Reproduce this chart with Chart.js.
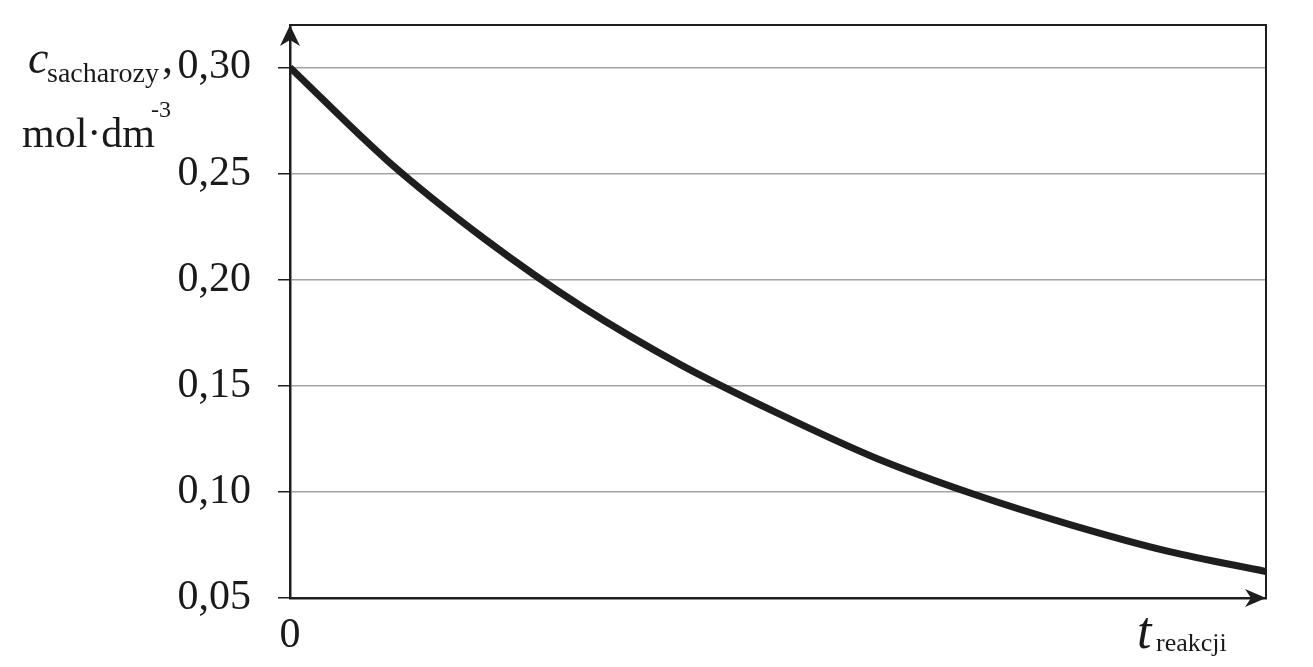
<!DOCTYPE html>
<html>
<head>
<meta charset="utf-8">
<script src="https://cdn.jsdelivr.net/npm/chart.js@4/dist/chart.umd.min.js"></script>
<style>
  body { margin: 0; background: #fff; }
  #wrap { position: relative; width: 1313px; height: 667px; }
  .lbl { position: absolute; font-family: "Liberation Serif", "Times New Roman", serif; color: #1a1a1a; line-height: 1; white-space: nowrap; }
</style>
</head>
<body>
<div id="wrap">
  <canvas id="chart"></canvas>
  <!-- axis titles, placed by hand -->
  <div class="lbl" style="left:28px; top:35px; font-size:46px; font-style:italic;">c</div>
  <div class="lbl" style="left:47px; top:59px; font-size:28px;">sacharozy</div>
  <div class="lbl" style="left:162px; top:37px; font-size:44px;">,</div>
  <div class="lbl" style="left:22px; top:112px; font-size:42px;">mol·dm</div>
  <div class="lbl" style="left:151px; top:97px; font-size:24px;">-3</div>
  <div class="lbl" style="left:1137px; top:605px; font-size:52px; font-style:italic;">t</div>
  <div class="lbl" style="left:1156px; top:630px; font-size:26px;">reakcji</div>
</div>
<script>
// reaction time (arbitrary units) and sucrose concentration
const times = [0, 1, 2, 3, 4, 5, 6, 7, 8, 9, 10];
const concentration = [0.300, 0.256, 0.219, 0.187, 0.160, 0.137, 0.116, 0.099, 0.0845, 0.072, 0.0625];
const yTicks = [0.05, 0.10, 0.15, 0.20, 0.25, 0.30];
const xTicks = [0];

const dark = '#1e1e1e';

// frame on top/right plus the two arrow heads
const framePlugin = {
  id: 'frame',
  afterDraw(chart) {
    const { ctx, chartArea: a } = chart;
    ctx.save();
    ctx.strokeStyle = dark;
    ctx.lineWidth = 2;
    ctx.beginPath();
    ctx.moveTo(a.left, a.top);
    ctx.lineTo(a.right, a.top);
    ctx.lineTo(a.right, a.bottom);
    ctx.stroke();

    ctx.fillStyle = dark;
    // up arrow on y axis
    ctx.beginPath();
    ctx.moveTo(a.left, a.top);
    ctx.lineTo(a.left - 10, a.top + 21);
    ctx.lineTo(a.left, a.top + 15);
    ctx.lineTo(a.left + 10, a.top + 21);
    ctx.closePath();
    ctx.fill();
    // right arrow on x axis
    ctx.beginPath();
    ctx.moveTo(a.right, a.bottom);
    ctx.lineTo(a.right - 21, a.bottom - 9);
    ctx.lineTo(a.right - 15, a.bottom);
    ctx.lineTo(a.right - 21, a.bottom + 9);
    ctx.closePath();
    ctx.fill();
    ctx.restore();
  }
};

new Chart(document.getElementById('chart'), {
  type: 'line',
  data: {
    datasets: [{
      data: times.map((t, i) => ({ x: t, y: concentration[i] })),
      borderColor: dark,
      borderWidth: 7,
      pointRadius: 0,
      cubicInterpolationMode: 'monotone',
      fill: false
    }]
  },
  options: {
    responsive: true,
    maintainAspectRatio: false,
    animation: false,
    events: [],
    // y labels add half a line height on top by themselves
    layout: { padding: { left: 0, top: 0, right: 47, bottom: 0 } },
    plugins: { legend: { display: false }, tooltip: { enabled: false } },
    scales: {
      x: {
        type: 'linear',
        min: 0,
        max: 10,
        afterBuildTicks: (s) => { s.ticks = xTicks.map(v => ({ value: v })); },
        afterFit: (s) => { s.height = 69; },
        grid: { drawOnChartArea: false, drawTicks: false },
        border: { color: dark, width: 2.5 },
        ticks: {
          padding: 13,
          color: '#1a1a1a',
          font: { family: 'Liberation Serif', size: 42 },
          callback: (v) => String(v)
        }
      },
      y: {
        min: 0.05,
        max: 0.32,
        afterBuildTicks: (s) => { s.ticks = yTicks.map(v => ({ value: v })); },
        afterFit: (s) => { s.width = 290; s.paddingTop = 25; },
        grid: { color: '#a3a3a3', lineWidth: 1.5, tickLength: 12, tickColor: dark, tickWidth: 1.5 },
        border: { color: dark, width: 2.5 },
        ticks: {
          padding: 27,
          color: '#1a1a1a',
          font: { family: 'Liberation Serif', size: 42 },
          callback: (v) => v.toFixed(2).replace('.', ',')
        }
      }
    }
  },
  plugins: [framePlugin]
});
</script>
</body>
</html>
